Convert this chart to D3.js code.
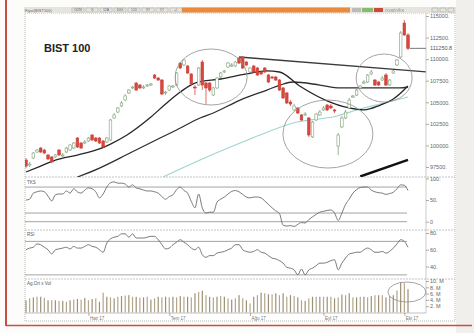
<!DOCTYPE html>
<html>
<head>
<meta charset="utf-8">
<script src="https://cdn.jsdelivr.net/npm/d3@7"></script>
<style>
  body { margin: 0; background: #fcfcfa; }
  svg { display: block; font-family: "Liberation Sans", Arial, sans-serif; }
</style>
</head>
<body>
<svg id="chart" width="474" height="333"></svg>
<script>
// ---- data (BIST 100, daily) ----
const opens = [98310,97730,98540,99240,99700,99470,98890,98660,98660,99470,
  98770,99240,99470,99700,100860,100280,100280,100510,101210,100860,
  100860,100510,100400,100630,103180,103870,104570,105260,106080,106660,
  107230,107000,106660,106890,107000,108160,107810,107580,106080,106420,
  106770,107000,109550,109320,109200,108280,106770,107000,109670,107230,
  107230,105840,106660,107930,108510,109090,109200,109200,110130,110250,
  109670,108510,109200,108970,108510,108970,108160,107930,107930,107580,
  106660,106080,105030,104110,104340,103530,103530,103180,100980,102950,
  103530,104110,104680,104570,104110,99930,102140,103180,104340,105610,
  105840,106660,107230,107350,108280,107580,107350,107580,108160,107000,
  108390,109320,110250,114190,112800];
const highs = [98540,98080,99240,99590,99820,99590,99010,98770,99010,99590,
  99120,99820,100160,100400,100980,100400,100630,100980,101320,100980,
  100980,100630,100980,103060,103760,104450,105150,105960,106540,106890,
  107350,107120,107000,107120,107230,108280,107930,107700,106310,107000,
  107000,108510,109670,110020,109320,108390,107000,109090,109900,107350,
  107350,106770,107930,108510,108740,109670,109550,109780,110250,110360,
  109780,109090,109320,109090,108630,109090,108280,108050,108050,107700,
  106770,106190,105260,104800,104450,103640,103870,103290,102830,103760,
  104110,104570,104800,104800,104220,101440,103410,104110,105500,105840,
  106540,107000,107580,108280,108740,107700,107470,108050,108390,107700,
  108740,110020,113260,114540,113030];
const lows = [97380,97500,98430,99120,99120,99010,98310,97960,98540,98770,
  98660,99120,99350,99590,99700,99590,100160,100400,100510,100400,
  100160,99700,100280,100510,103060,103760,104450,105150,105960,106540,
  106310,106540,106540,106770,106890,107700,107470,105840,105840,106310,
  106660,106890,108860,109200,108280,107000,105840,106890,106420,104800,
  106190,105730,106540,107810,108390,108970,109090,109090,109440,108860,
  109200,108390,108390,108050,108160,108390,107230,107700,107470,106310,
  105380,104800,104570,103990,103640,102830,103410,100980,100860,102830,
  103410,103990,103990,104220,103760,98890,102020,103060,104220,105500,
  105730,106540,107120,107230,108160,106890,106890,107470,106890,106890,
  108280,109200,110130,112680,111060];
const closes = [97610,97850,99120,99470,99240,99120,98430,98080,98890,98890,
  98890,99700,100050,100280,99820,99700,100400,100860,100630,100510,
  100280,99820,100860,102950,103530,104340,104920,105730,106420,106770,
  106420,106660,106770,107000,107120,107810,107580,105960,106190,106890,
  106890,108390,108970,109900,108390,107120,106660,108970,107000,106660,
  106420,106660,107810,108390,108630,109550,109320,109670,109550,108970,
  109320,108970,108510,108160,108280,108510,107350,107810,107580,106420,
  105500,104920,104800,104570,103760,102950,103640,101210,102710,103640,
  103870,104340,104110,104340,103990,101210,103180,103870,105260,105730,
  106420,106890,107350,108160,108510,107000,107000,107810,107000,107580,
  108630,109900,113030,112800,111250.8];
// volume, millions
const volumes = [3.9,4.5,4.8,5.0,5.0,4.7,3.9,3.9,3.9,3.7,
  3.7,3.4,3.9,4.1,4.3,4.1,4.6,3.9,4.3,4.5,
  3.4,6.3,5.0,4.8,4.5,5.0,5.2,5.4,5.5,5.0,
  5.0,4.7,4.8,5.0,4.1,4.5,5.0,4.8,5.0,4.8,
  5.0,4.8,5.2,5.0,5.0,4.8,6.1,6.5,6.9,5.5,
  5.0,4.8,5.0,5.2,5.0,4.5,4.1,4.5,5.5,4.5,
  3.9,2.9,5.0,5.5,6.3,6.1,5.8,5.8,6.1,5.5,
  6.1,5.0,5.5,5.2,4.8,3.9,3.7,4.5,5.0,5.0,
  5.0,5.0,5.0,5.0,4.5,4.8,5.7,5.5,6.1,4.8,
  4.8,5.0,5.0,4.8,5.2,5.5,5.5,5.5,4.8,5.2,
  5.5,7.0,9.6,9.3,7.4];
// upper oscillator
const osc = [50,52,66,69,71,69,59,48,62,64,
  64,71,66,76,69,66,73,78,76,69,
  55,64,80,90,92,89,89,87,80,85,
  78,76,73,71,71,69,66,58,52,58,
  62,74,80,72,66,47,32,64,32,20,
  22,22,45,52,57,64,70,72,69,63,
  57,55,57,57,55,48,40,32,25,19,
  -8,-10,-9,-11,-6,-2,-3,5,11,17,
  22,24,26,27,20,3,20,40,52,66,
  74,79,80,80,73,69,67,66,63,65,
  68,76,85,84,72];
const rsi = [60,62,63,67,66,63,60,55,60,61,
  62,63,61,64,62,62,64,66,64,63,
  60,57,68,73,75,76,79,79,75,79,
  74,74,74,75,76,76,72,66,61,62,
  66,69,72,69,66,62,60,63,54,51,
  53,53,56,57,58,60,62,66,66,60,
  58,57,58,60,57,56,53,50,49,47,
  44,39,38,36,30,37,30,36,38,41,
  44,44,45,47,48,36,44,50,55,56,
  57,57,60,62,60,57,57,58,56,58,
  62,67,72,70,63];
// moving averages: [bar index, level]
const maShort = [[0,96920],[4,97610],[8,98310],[14,98890],[20,99590],[23,100160],
  [27.5,101210],[34,103290],[38,104800],[42,106190],[46,107230],[53,107700],
  [60,108280],[65.5,108630],[69,108510],[74.5,106890],[81.5,105260],[88,104340],
  [92,104110],[96.5,104680],[100,105380],[104,106890]];
const maLong = [[14,96340],[20,97380],[28.3,99120],[36.5,100860],[41,101790],
  [47.4,103180],[51,103760],[58.3,105260],[65.6,106420],[69.2,107000],
  [72.7,107350],[80,107000],[85.5,106660],[92.8,106660],[101.8,106660],[104,106770]];
const maSlow = [[37.3,96340],[47.4,98310],[58.3,100280],[63.7,101210],[72.7,102600],
  [84.7,103410],[90.1,104110],[96.4,104800],[104,105610]];
const maThick = [[91,96400],[104,98330]];
const trendLine = [[58,110250],[109,108510]];

const priceTicks = [97500,100000,102500,105000,107500,110000,112500,115000];
const oscTicks = [0,50,100];
const oscLevels = [0,20,80];
const rsiTicks = [40,60,80];
const rsiLevels = [30,70];
const volTicks = [2,4,6,8,10];
const monthIdx = [17,39,61,81,103];
const monthLabels = ["Haz 17","Tem 17","Ağu 17","Eyl 17","Eki 17"];

// hand drawn circles: [bar index, level, rx, ry]
const priceCircles = [[50.4,107930,36,28],[82.2,101320,45,34],[97.5,107810,28,24]];
const volCircles = [[103.7,6.5,19,10]];

const N = closes.length;
const svg = d3.select("#chart");

// ---- scanned page ----
svg.append("rect").attr("width", 474).attr("height", 333).attr("fill", "#fcfcfa");
svg.append("rect").attr("x", 456).attr("y", 0).attr("width", 18).attr("height", 333).attr("fill", "#f0efec");
svg.append("line").attr("x1", 6).attr("x2", 6).attr("y1", 0).attr("y2", 326)
  .attr("stroke", "#c65048").attr("stroke-width", 2);
svg.append("line").attr("x1", 6).attr("x2", 472).attr("y1", 325.5).attr("y2", 325.5)
  .attr("stroke", "#c65048").attr("stroke-width", 1.6);

// window frame
svg.append("rect").attr("x", 25).attr("y", 13).attr("width", 430).attr("height", 308)
  .attr("fill", "#fff").attr("stroke", "#b8b8b8").attr("stroke-dasharray", "1,1");

// toolbar
svg.append("rect").attr("x", 24).attr("y", 7).attr("width", 432).attr("height", 6).attr("fill", "#e6e4de");
svg.append("rect").attr("x", 182).attr("y", 7.5).attr("width", 168).attr("height", 5).attr("fill", "#ec8a3c");
svg.append("text").attr("x", 25).attr("y", 11.8).attr("font-size", 4).attr("fill", "#666").text("Fiyat(BIST100)");
["GÜN","G","12A","60G","120","3Y","5Y","+/-"].forEach((t, i) => {
  const bx = 72 + i * 14;
  svg.append("rect").attr("x", bx).attr("y", 8).attr("width", 12).attr("height", 4)
    .attr("fill", "none").attr("stroke", "#999").attr("stroke-width", 0.4);
  svg.append("text").attr("x", bx + 6).attr("y", 11.4).attr("font-size", 3.5)
    .attr("text-anchor", "middle").attr("fill", "#666").text(t);
});
svg.append("rect").attr("x", 352).attr("y", 8).attr("width", 9).attr("height", 4).attr("fill", "#bbb");
svg.append("rect").attr("x", 362).attr("y", 8).attr("width", 11).attr("height", 4).attr("fill", "#86bd6c");
svg.append("rect").attr("x", 374).attr("y", 8).attr("width", 9).attr("height", 4).attr("fill", "#c9493f");
svg.append("text").attr("x", 385).attr("y", 12.3).attr("font-size", 6).attr("font-style", "italic")
  .attr("fill", "#999").text("matriks");
[432, 440, 448].forEach(bx => svg.append("rect").attr("x", bx).attr("y", 8).attr("width", 6)
  .attr("height", 4).attr("fill", "none").attr("stroke", "#999").attr("stroke-width", 0.5));

// ---- scales ----
const plotL = 25, plotR = 426;
const x = d3.scaleLinear().domain([0, N - 1]).range([26, 408]);
const y = d3.scaleLinear().domain([97500, 115000]).range([167, 16]);
const y1 = d3.scaleLinear().domain([0, 100]).range([221.7, 178.4]);
const y2 = d3.scaleLinear().domain([40, 80]).range([266.5, 233]);
const yv = d3.scaleLinear().domain([0, 10]).range([312.5, 281]);

const defs = svg.append("defs");
defs.append("clipPath").attr("id", "clipMain")
  .append("rect").attr("x", plotL).attr("y", 14).attr("width", plotR - plotL).attr("height", 163);

// panel separators
[177, 230, 279].forEach(sy => svg.append("line").attr("x1", plotL).attr("x2", 455)
  .attr("y1", sy).attr("y2", sy).attr("stroke", "#aaa").attr("stroke-width", 0.7)
  .attr("stroke-dasharray", "2,1"));
svg.append("line").attr("x1", plotL).attr("x2", plotR).attr("y1", 313).attr("y2", 313)
  .attr("stroke", "#999").attr("stroke-width", 0.6);

// ---- main price panel ----
const main = svg.append("g").attr("clip-path", "url(#clipMain)");
const line = d3.line().x(d => x(d[0])).y(d => y(d[1])).curve(d3.curveMonotoneX);

main.append("path").attr("d", line(maSlow)).attr("fill", "none")
  .attr("stroke", "#9fd6cf").attr("stroke-width", 1.2);
main.append("path").attr("d", line(maLong)).attr("fill", "none")
  .attr("stroke", "#2e2e2e").attr("stroke-width", 1.3);
main.append("path").attr("d", line(maShort)).attr("fill", "none")
  .attr("stroke", "#262626").attr("stroke-width", 1.3);
main.append("path").attr("d", d3.line().x(d => x(d[0])).y(d => y(d[1]))(trendLine))
  .attr("fill", "none").attr("stroke", "#3a3a3a").attr("stroke-width", 1.3);
main.append("path").attr("d", d3.line().x(d => x(d[0])).y(d => y(d[1]))(maThick))
  .attr("fill", "none").attr("stroke", "#111").attr("stroke-width", 2.4);

const bars = d3.range(N).map(i => ({ i, o: opens[i], h: highs[i], l: lows[i], c: closes[i] }));
const upCol = "#7d9f77", dnCol = "#d8473d";

main.selectAll("line.wick").data(bars).join("line").attr("class", "wick")
  .attr("x1", d => x(d.i)).attr("x2", d => x(d.i))
  .attr("y1", d => y(d.h)).attr("y2", d => y(d.l))
  .attr("stroke", d => d.c >= d.o ? upCol : dnCol).attr("stroke-width", 0.8);

main.selectAll("rect.body").data(bars).join("rect").attr("class", "body")
  .attr("x", d => x(d.i) - 1.3).attr("width", 2.6)
  .attr("y", d => y(Math.max(d.o, d.c)))
  .attr("height", d => Math.max(0.8, Math.abs(y(d.o) - y(d.c))))
  .attr("fill", d => d.c >= d.o ? "#fff" : dnCol)
  .attr("stroke", d => d.c >= d.o ? upCol : "#c63f36").attr("stroke-width", 0.6);

main.selectAll("ellipse").data(priceCircles).join("ellipse")
  .attr("cx", d => x(d[0])).attr("cy", d => y(d[1])).attr("rx", d => d[2]).attr("ry", d => d[3])
  .attr("fill", "none").attr("stroke", "#8e8e8e").attr("stroke-width", 0.8);

svg.append("text").attr("x", 44).attr("y", 52).attr("font-size", 11).attr("font-weight", "bold")
  .attr("fill", "#222").text("BIST 100");

// last price marker
const last = closes[N - 1];
svg.append("line").attr("x1", x(N - 1) + 2).attr("x2", plotR).attr("y1", y(last)).attr("y2", y(last))
  .attr("stroke", "#555").attr("stroke-width", 0.8);

// ---- right axes ----
function styleAxis(g) {
  g.select(".domain").attr("stroke", "#aaa").attr("stroke-width", 0.6);
  g.selectAll(".tick line").attr("stroke", "#777").attr("stroke-width", 0.6);
  g.selectAll("text").attr("font-size", 5.5).attr("fill", "#666")
    .attr("font-family", "'Liberation Sans', Arial, sans-serif");
}
svg.append("g").attr("transform", `translate(${plotR},0)`)
  .call(d3.axisRight(y).tickValues(priceTicks).tickFormat(d => d + ".").tickSize(3).tickPadding(1))
  .call(g => g.select(".domain").attr("d", "M0,13V177"))
  .call(styleAxis);
svg.append("text").attr("x", plotR + 4).attr("y", y(last) + 2).attr("font-size", 5.5)
  .attr("fill", "#555").text("111250.8");

svg.append("g").attr("transform", `translate(${plotR},0)`)
  .call(d3.axisRight(y1).tickValues(oscTicks).tickFormat(d => d === 0 ? "0" : d + ".").tickSize(3).tickPadding(1))
  .call(g => g.select(".domain").attr("d", "M0,177V230"))
  .call(styleAxis);
svg.append("g").attr("transform", `translate(${plotR},0)`)
  .call(d3.axisRight(y2).tickValues(rsiTicks).tickFormat(d => d + ".").tickSize(3).tickPadding(1))
  .call(g => g.select(".domain").attr("d", "M0,230V279"))
  .call(styleAxis);
svg.append("g").attr("transform", `translate(${plotR},0)`)
  .call(d3.axisRight(yv).tickValues(volTicks).tickFormat(d => d + ". M").tickSize(3).tickPadding(1))
  .call(g => g.select(".domain").attr("d", "M0,279V313"))
  .call(styleAxis);

// ---- upper oscillator ----
svg.append("text").attr("x", 27).attr("y", 183.5).attr("font-size", 4.5).attr("fill", "#555").text("TKS");
svg.selectAll("line.lv1").data(oscLevels).join("line").attr("class", "lv1")
  .attr("x1", plotL).attr("x2", 407).attr("y1", d => y1(d)).attr("y2", d => y1(d))
  .attr("stroke", "#8c8c8c").attr("stroke-width", 0.8);
svg.append("path")
  .attr("d", d3.line().x((d, i) => x(i)).y(d => y1(d)).curve(d3.curveMonotoneX)(osc))
  .attr("fill", "none").attr("stroke", "#6a6a6a").attr("stroke-width", 0.9);

// ---- RSI ----
svg.append("text").attr("x", 27).attr("y", 235.5).attr("font-size", 4.5).attr("fill", "#555").text("RSI");
svg.selectAll("line.lv2").data(rsiLevels).join("line").attr("class", "lv2")
  .attr("x1", plotL).attr("x2", 407).attr("y1", d => y2(d)).attr("y2", d => y2(d))
  .attr("stroke", "#8c8c8c").attr("stroke-width", 0.8);
svg.append("path")
  .attr("d", d3.line().x((d, i) => x(i)).y(d => y2(d)).curve(d3.curveMonotoneX)(rsi))
  .attr("fill", "none").attr("stroke", "#6a6a6a").attr("stroke-width", 0.9);

// ---- volume ----
svg.append("text").attr("x", 27).attr("y", 284.5).attr("font-size", 4.5).attr("fill", "#555").text("Ag.Ort x Vol");
svg.selectAll("rect.vol").data(volumes).join("rect").attr("class", "vol")
  .attr("x", (d, i) => x(i) - 0.6).attr("width", 1.2)
  .attr("y", d => yv(d)).attr("height", d => yv(0) - yv(d))
  .attr("fill", (d, i) => i % 2 ? "#b4a689" : "#9c9078");
svg.selectAll("ellipse.vc").data(volCircles).join("ellipse").attr("class", "vc")
  .attr("cx", d => x(d[0])).attr("cy", d => yv(d[1])).attr("rx", d => d[2]).attr("ry", d => d[3])
  .attr("fill", "none").attr("stroke", "#8e8e8e").attr("stroke-width", 0.8);

// ---- bottom axis ----
svg.append("g").attr("transform", "translate(0,313)")
  .call(d3.axisBottom(x).tickValues(monthIdx).tickFormat((d, i) => monthLabels[i]).tickSize(3))
  .call(g => g.select(".domain").remove())
  .call(g => g.selectAll(".tick line").attr("stroke", "#777").attr("stroke-width", 0.6))
  .call(g => g.selectAll("text").attr("font-size", 4.5).attr("fill", "#777")
    .attr("text-anchor", "start").attr("x", 1).attr("dy", "0.3em"));
</script>
</body>
</html>
